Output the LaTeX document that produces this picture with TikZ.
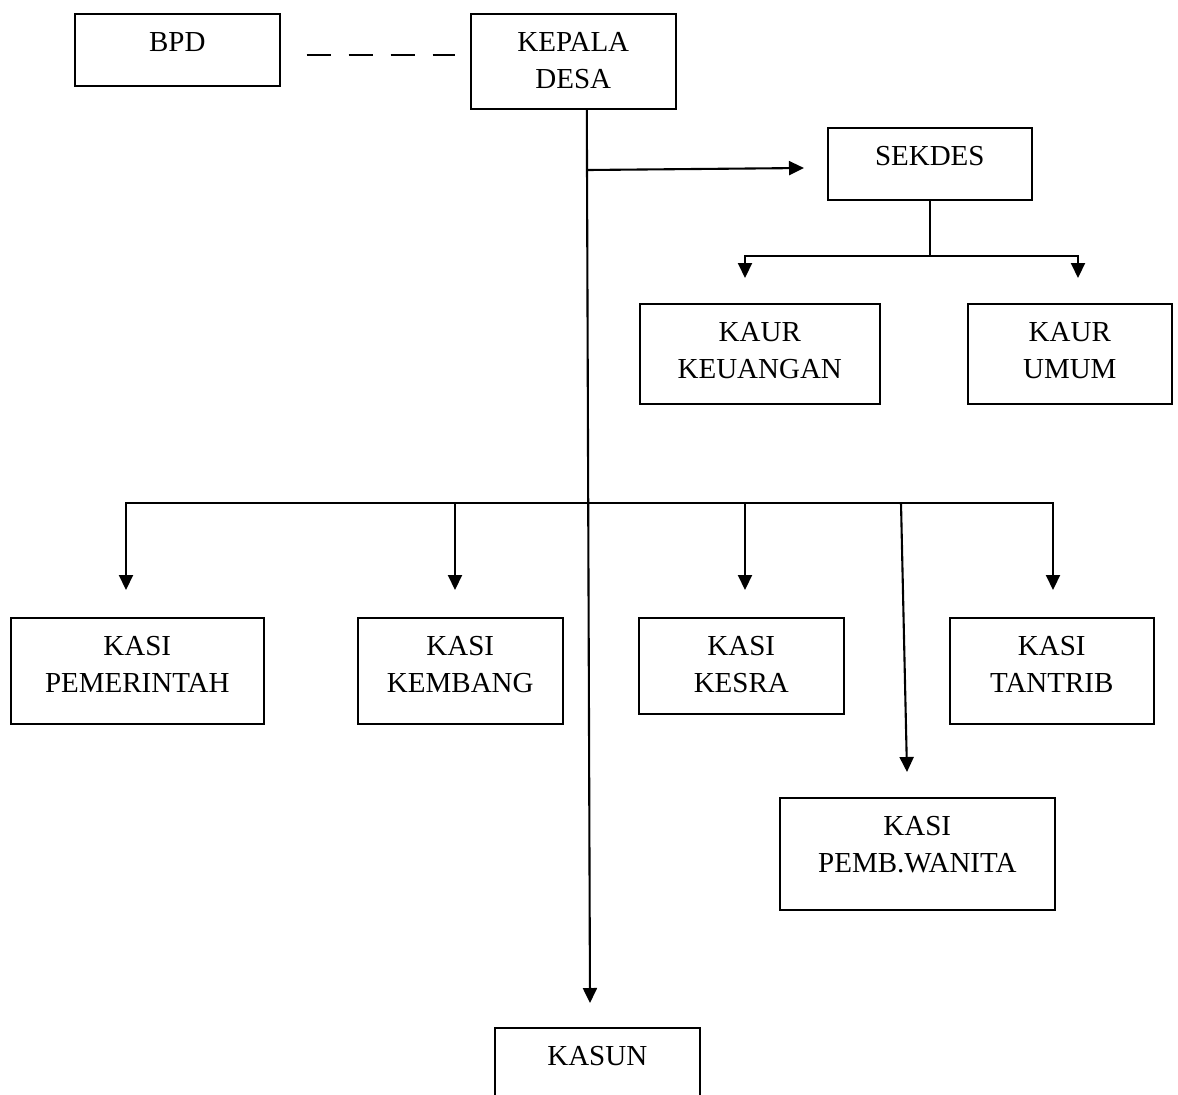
\documentclass[tikz,border=0pt]{standalone}
\usepackage{fontspec}
\setmainfont{Liberation Serif}
\usetikzlibrary{arrows.meta}

\begin{document}
\begin{tikzpicture}[x=1pt,y=-1pt,
  unit/.style={draw,line width=1.6pt,anchor=north west,inner sep=0pt},
  boxtext/.style={anchor=north,yshift=-19pt,align=center,inner sep=0pt,font=\fontsize{29}{37.5}\selectfont},
  link/.style={line width=2.1pt},
  arr/.style={link,-{Triangle[length=15pt,width=14pt]}}
]
\clip (0,0) rectangle (1178,1095);
\fill[white] (0,0) rectangle (1178,1095);
% boxes
\node[unit,minimum width=205pt,minimum height=72pt,label={[boxtext]north:BPD}] (bpd) at (74,13) {};
\node[unit,minimum width=205pt,minimum height=95pt,label={[boxtext]north:{KEPALA\\DESA}}] (kades) at (470,13) {};
\node[unit,minimum width=204pt,minimum height=72pt,label={[boxtext]north:SEKDES}] (sekdes) at (827,127) {};
\node[unit,minimum width=240pt,minimum height=100pt,label={[boxtext]north:{KAUR\\KEUANGAN}}] (keuangan) at (639,303) {};
\node[unit,minimum width=204pt,minimum height=100pt,label={[boxtext]north:{KAUR\\UMUM}}] (umum) at (967,303) {};
\node[unit,minimum width=253pt,minimum height=106pt,label={[boxtext]north:{KASI\\PEMERINTAH}}] (pem) at (10,617) {};
\node[unit,minimum width=205pt,minimum height=106pt,label={[boxtext]north:{KASI\\KEMBANG}}] (kembang) at (357,617) {};
\node[unit,minimum width=205pt,minimum height=96pt,label={[boxtext]north:{KASI\\KESRA}}] (kesra) at (638,617) {};
\node[unit,minimum width=204pt,minimum height=106pt,label={[boxtext]north:{KASI\\TANTRIB}}] (tantrib) at (949,617) {};
\node[unit,minimum width=275pt,minimum height=112pt,label={[boxtext]north:{KASI\\PEMB.WANITA}}] (wanita) at (779,797) {};
\node[unit,minimum width=205pt,minimum height=110pt,label={[boxtext]north:KASUN}] (kasun) at (494,1027) {};

% junctions and arrow ends
\coordinate (spine) at ([xshift=13.5pt]kades.south);
\coordinate (toSek) at (588,170);
\coordinate (tipSek) at (804,168);
\coordinate (tipKeu) at (745,278);
\coordinate (tipUmum) at (1078,278);
\coordinate (bar) at (588,503);
\coordinate (tipPem) at (126,590);
\coordinate (tipKem) at (455,590);
\coordinate (tipKes) at (745,590);
\coordinate (tipTan) at (1053,590);
\coordinate (wanTop) at (901,503);
\coordinate (tipWan) at (907,772);
\coordinate (tipKasun) at (590,1003);

% connectors
\draw[link,dash pattern=on 24pt off 18pt] ([xshift=26pt,yshift=-5pt]bpd.east) -- ([xshift=-15pt,yshift=6.5pt]kades.west);
\draw[arr] (spine) -- (tipKasun);
\draw[arr] (toSek) -- (tipSek);
\draw[link] (sekdes.south) -- ++(0,55) coordinate (sekBar);
\draw[arr] (sekBar) -| (tipKeu);
\draw[arr] (sekBar) -| (tipUmum);
\draw[arr] (bar) -| (tipPem);
\draw[arr] (bar) -| (tipKem);
\draw[arr] (bar) -| (tipKes);
\draw[arr] (bar) -| (tipTan);
\draw[arr] (wanTop) -- (tipWan);
\end{tikzpicture}
\end{document}
